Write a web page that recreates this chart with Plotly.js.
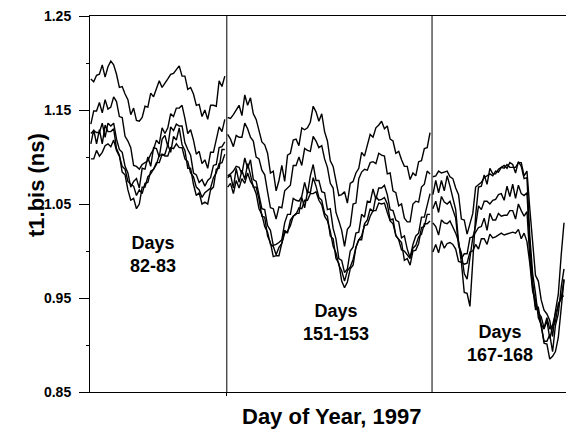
<!DOCTYPE html>
<html>
<head>
<meta charset="utf-8">
<script src="https://cdn.plot.ly/plotly-3.0.1.min.js"></script>
<style>html,body{margin:0;padding:0;background:#fff;}#chart{width:566px;height:433px;}</style>
</head>
<body>
<div id="chart"></div>
<script>
// Hour offsets of the three observation windows on the shared time axis
const panelStarts = [0.3, 48.3, 120.3];
const panelBreaks = [48, 120];
const panelLabels = ["Days<br>82-83", "Days<br>151-153", "Days<br>167-168"];
const yTicks = [0.85, 0.95, 1.05, 1.15, 1.25];
const yTickText = ["0.85", "0.95", "1.05", "1.15", "1.25"];
const yMinorTicks = [0.90, 1.00, 1.10, 1.20];

// Days 82-83 (hourly)
const p1A = [1.183,1.180,1.187,1.188,1.198,1.185,1.196,1.202,1.198,1.188,1.174,1.175,1.167,1.161,1.145,1.152,1.139,1.138,1.142,1.154,1.153,1.168,1.164,1.173,1.181,1.174,1.178,1.183,1.188,1.189,1.193,1.197,1.186,1.186,1.172,1.174,1.167,1.155,1.156,1.143,1.150,1.140,1.155,1.155,1.154,1.181,1.175,1.186];
const p1B = [1.135,1.149,1.149,1.158,1.147,1.161,1.151,1.153,1.164,1.159,1.143,1.142,1.122,1.117,1.110,1.091,1.090,1.087,1.092,1.094,1.096,1.103,1.108,1.118,1.114,1.131,1.125,1.131,1.146,1.143,1.152,1.152,1.155,1.141,1.125,1.129,1.118,1.103,1.106,1.093,1.097,1.088,1.105,1.105,1.117,1.132,1.127,1.140];
const p1C = [1.125,1.128,1.126,1.126,1.136,1.121,1.136,1.133,1.136,1.119,1.108,1.105,1.090,1.083,1.068,1.074,1.077,1.067,1.088,1.087,1.100,1.090,1.110,1.109,1.100,1.119,1.123,1.111,1.132,1.128,1.135,1.133,1.133,1.115,1.108,1.102,1.083,1.081,1.073,1.076,1.069,1.075,1.078,1.091,1.092,1.110,1.111,1.116];
const p1D = [1.114,1.129,1.114,1.129,1.114,1.134,1.127,1.127,1.130,1.109,1.102,1.084,1.081,1.065,1.054,1.056,1.045,1.050,1.068,1.068,1.079,1.082,1.087,1.092,1.102,1.102,1.103,1.113,1.105,1.122,1.118,1.131,1.113,1.107,1.088,1.088,1.071,1.059,1.062,1.050,1.052,1.050,1.065,1.068,1.087,1.088,1.108,1.108];
const p1E = [1.098,1.098,1.107,1.101,1.105,1.112,1.114,1.111,1.118,1.107,1.101,1.090,1.087,1.074,1.071,1.069,1.059,1.065,1.061,1.072,1.073,1.085,1.087,1.094,1.094,1.103,1.101,1.101,1.110,1.109,1.114,1.110,1.110,1.098,1.095,1.083,1.079,1.068,1.065,1.057,1.062,1.065,1.067,1.078,1.083,1.093,1.094,1.103];

// Days 151-153 (hourly)
const p2A = [1.142,1.141,1.145,1.150,1.155,1.144,1.166,1.155,1.163,1.146,1.140,1.128,1.116,1.113,1.104,1.083,1.085,1.064,1.075,1.091,1.074,1.102,1.104,1.118,1.119,1.112,1.131,1.129,1.131,1.137,1.154,1.148,1.138,1.146,1.127,1.117,1.096,1.090,1.073,1.059,1.060,1.063,1.051,1.072,1.074,1.083,1.088,1.105,1.101,1.113,1.124,1.121,1.131,1.134,1.138,1.130,1.133,1.119,1.117,1.104,1.106,1.097,1.090,1.090,1.076,1.083,1.080,1.095,1.096,1.109,1.110,1.126];
const p2B = [1.124,1.119,1.111,1.123,1.121,1.121,1.136,1.130,1.121,1.117,1.100,1.098,1.086,1.081,1.063,1.046,1.045,1.034,1.047,1.046,1.064,1.067,1.070,1.091,1.091,1.100,1.091,1.109,1.107,1.106,1.122,1.117,1.110,1.112,1.098,1.089,1.072,1.067,1.041,1.032,1.022,1.005,1.023,1.027,1.050,1.051,1.077,1.084,1.087,1.086,1.094,1.095,1.093,1.104,1.102,1.101,1.082,1.083,1.064,1.062,1.048,1.050,1.035,1.031,1.031,1.050,1.053,1.052,1.068,1.071,1.085,1.082];
const p2C = [1.080,1.082,1.085,1.090,1.089,1.082,1.099,1.088,1.097,1.076,1.074,1.061,1.045,1.044,1.027,1.022,1.006,1.007,1.009,1.012,1.030,1.039,1.039,1.056,1.054,1.053,1.058,1.073,1.061,1.080,1.092,1.075,1.075,1.063,1.062,1.044,1.045,1.024,1.013,0.992,0.990,0.977,0.981,1.000,1.004,1.019,1.020,1.039,1.036,1.053,1.052,1.066,1.055,1.067,1.067,1.070,1.060,1.044,1.043,1.033,1.031,1.014,1.016,1.002,0.993,1.007,1.016,1.019,1.036,1.036,1.049,1.061];
const p2D = [1.078,1.081,1.067,1.088,1.073,1.086,1.076,1.093,1.081,1.068,1.068,1.055,1.037,1.036,1.016,1.009,0.994,0.995,0.995,1.008,1.022,1.019,1.033,1.037,1.040,1.040,1.057,1.046,1.063,1.062,1.078,1.069,1.057,1.054,1.040,1.037,1.016,1.013,0.992,0.987,0.968,0.961,0.967,0.981,0.985,1.004,1.012,1.012,1.029,1.033,1.045,1.042,1.058,1.054,1.055,1.057,1.050,1.033,1.034,1.016,1.013,1.009,0.990,0.992,0.985,1.000,1.001,1.008,1.025,1.026,1.039,1.039];
const p2E = [1.068,1.072,1.061,1.075,1.067,1.077,1.072,1.083,1.074,1.069,1.061,1.045,1.039,1.026,1.020,1.007,1.005,0.996,1.004,1.008,1.019,1.021,1.027,1.037,1.039,1.046,1.045,1.054,1.054,1.061,1.061,1.063,1.054,1.049,1.037,1.032,1.021,1.005,0.998,0.985,0.979,0.968,0.979,0.983,0.991,1.004,1.012,1.016,1.027,1.028,1.037,1.043,1.043,1.051,1.050,1.051,1.041,1.032,1.029,1.017,1.012,1.001,1.000,0.996,0.992,1.003,1.006,1.015,1.018,1.029,1.029,1.032];

// Days 167-168 (hourly)
const p3A = [1.079,1.080,1.085,1.083,1.084,1.085,1.079,1.077,1.067,1.060,1.034,1.033,1.018,1.029,1.040,1.068,1.071,1.073,1.078,1.080,1.082,1.080,1.085,1.084,1.089,1.088,1.092,1.089,1.089,1.089,1.094,1.094,1.080,1.085,1.045,1.007,0.974,0.968,0.948,0.937,0.933,0.926,0.909,0.936,0.954,0.995,1.030];
const p3B = [1.060,1.075,1.062,1.075,1.064,1.080,1.069,1.057,1.044,1.010,0.988,0.956,0.955,0.941,0.995,1.038,1.068,1.069,1.081,1.071,1.088,1.082,1.082,1.087,1.089,1.091,1.088,1.094,1.092,1.083,1.095,1.090,1.077,1.078,1.016,0.976,0.955,0.929,0.922,0.902,0.901,0.885,0.888,0.893,0.908,0.943,0.969];
const p3C = [1.045,1.053,1.041,1.058,1.052,1.050,1.053,1.045,1.035,1.006,0.998,0.976,0.970,0.993,1.014,1.027,1.048,1.044,1.053,1.053,1.050,1.054,1.055,1.060,1.061,1.054,1.069,1.058,1.071,1.056,1.070,1.061,1.059,1.062,1.007,0.967,0.941,0.935,0.921,0.904,0.904,0.911,0.893,0.921,0.933,0.961,0.981];
const p3D = [1.030,1.026,1.017,1.033,1.030,1.029,1.032,1.026,1.019,1.010,0.992,0.997,0.997,1.014,1.015,1.020,1.025,1.026,1.035,1.022,1.040,1.033,1.033,1.040,1.037,1.038,1.038,1.043,1.043,1.034,1.050,1.043,1.037,1.042,0.993,0.961,0.938,0.940,0.922,0.917,0.926,0.907,0.919,0.925,0.944,0.949,0.970];
const p3E = [0.999,1.007,0.998,1.011,1.003,1.008,1.009,1.007,1.002,0.989,0.988,0.986,0.987,0.999,1.000,1.007,1.002,1.013,1.013,1.007,1.018,1.014,1.015,1.017,1.019,1.017,1.018,1.019,1.020,1.019,1.023,1.013,1.019,1.010,0.987,0.957,0.948,0.934,0.930,0.918,0.929,0.917,0.921,0.934,0.941,0.952,0.952];

const panels = [
  [p1A, p1B, p1C, p1D, p1E],
  [p2A, p2B, p2C, p2D, p2E],
  [p3A, p3B, p3C, p3D, p3E]
];

const traces = [];
panels.forEach((series, p) => {
  series.forEach(vals => {
    traces.push({
      x: vals.map((_, i) => panelStarts[p] + i),
      y: vals,
      type: 'scatter',
      mode: 'lines',
      line: {color: '#000', width: 1.4},
      hoverinfo: 'skip',
      showlegend: false
    });
  });
});

const FONT = 'Liberation Sans, Arial, Helvetica, sans-serif';
const labelPos = [[0.132, 0.367], [0.517, 0.184], [0.861, 0.129]];
const annotations = panelLabels.map((t, k) => ({
  text: t, xref: 'paper', yref: 'paper', x: labelPos[k][0], y: labelPos[k][1],
  xanchor: 'center', yanchor: 'middle', showarrow: false, align: 'center',
  font: {family: FONT, size: 18, color: '#000', weight: 'bold'}
}));
annotations.push({
  text: 'Day of Year, 1997', xref: 'paper', yref: 'paper', x: 0.508, y: -0.066,
  xanchor: 'center', yanchor: 'middle', showarrow: false,
  font: {family: FONT, size: 22, color: '#000', weight: 'bold'}
});
annotations.push({
  text: 't1.bis (ns)', xref: 'paper', yref: 'paper', x: -0.1134, y: 0.5505,
  xanchor: 'center', yanchor: 'middle', showarrow: false, textangle: -90,
  font: {family: FONT, size: 22, color: '#000', weight: 'bold'}
});

const shapes = panelBreaks.map(b => ({
  type: 'line', xref: 'x', yref: 'paper', x0: b, x1: b, y0: 0, y1: 1,
  line: {color: '#000', width: 1}
}));

const layout = {
  width: 566, height: 433,
  margin: {l: 90, r: 0, t: 16, b: 41, pad: 0},
  paper_bgcolor: '#fff', plot_bgcolor: '#fff',
  showlegend: false,
  xaxis: {
    range: [0, 167], showgrid: false, zeroline: false,
    showline: true, linecolor: '#000', linewidth: 1, mirror: true,
    tickmode: 'array', tickvals: [panelBreaks[0]], ticks: 'outside', ticklen: 3,
    tickcolor: '#000', showticklabels: false
  },
  yaxis: {
    range: [0.85, 1.25], showgrid: false, zeroline: false,
    showline: true, linecolor: '#000', linewidth: 1,
    tickmode: 'array', tickvals: yTicks, ticktext: yTickText,
    ticks: 'outside', ticklen: 10, tickcolor: '#000', ticklabelstandoff: 5,
    tickfont: {family: FONT, size: 14, color: '#000', weight: 'bold'},
    minor: {tickmode: 'array', tickvals: yMinorTicks, ticks: 'outside', ticklen: 3, tickcolor: '#000', showgrid: false}
  },
  annotations: annotations,
  shapes: shapes
};

Plotly.newPlot('chart', traces, layout, {staticPlot: true, displayModeBar: false});
</script>
</body>
</html>
